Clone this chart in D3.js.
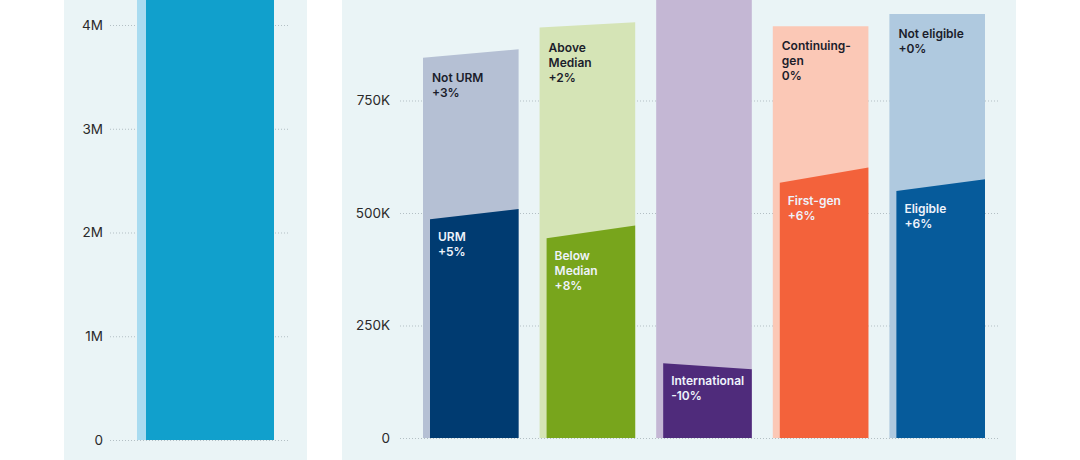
<!DOCTYPE html>
<html>
<head>
<meta charset="utf-8">
<script src="https://cdn.jsdelivr.net/npm/d3@7"></script>
<style>
  body { margin: 0; background: #ffffff; }
  svg { display: block; font-family: "Inter", "Lato", sans-serif; }
</style>
</head>
<body>
<div id="chart"></div>
<script>
// left panel: all applicants
var totalGroups = ["All"];
var totalLightStart = [5100000];
var totalLightEnd = [5200000];
var totalDarkStart = [5000000];
var totalDarkEnd = [5300000];
var totalTicks = [0, 1000000, 2000000, 3000000, 4000000];
var totalTickLabels = ["0", "1M", "2M", "3M", "4M"];

// right panel: subgroups
var groups = ["URM", "Income", "Citizenship", "First-gen", "Fee waiver"];
var lightStart = [845000, 912000, 1250000, 915000, 942000];
var lightEnd = [864000, 924000, 1290000, 915000, 942000];
var darkStart = [486000, 444000, 166000, 567000, 549000];
var darkEnd = [509000, 472000, 153000, 601000, 575000];
var lightLabels = [["Not URM", "+3%"], ["Above", "Median", "+2%"], [], ["Continuing-", "gen", "0%"], ["Not eligible", "+0%"]];
var darkLabels = [["URM", "+5%"], ["Below", "Median", "+8%"], ["International", "-10%"], ["First-gen", "+6%"], ["Eligible", "+6%"]];
var groupTicks = [0, 250000, 500000, 750000];
var groupTickLabels = ["0", "250K", "500K", "750K"];

var lightColors = ["#b5c0d4", "#d5e4b6", "#c4b7d4", "#fbc8b6", "#afc9df"];
var darkColors = ["#003b71", "#78a51c", "#4f2b7b", "#f3623b", "#065b9b"];
var lightText = "#1b1d2b";
var darkText = "#eef3fb";

var width = 1080, height = 460;
var inset = 7;

var svg = d3.select("#chart")
  .append("svg")
    .attr("width", width)
    .attr("height", height);

// panel backgrounds
svg.append("rect")
  .attr("x", 64).attr("y", 0)
  .attr("width", 243).attr("height", height)
  .style("fill", "#eaf4f6");
svg.append("rect")
  .attr("x", 342).attr("y", 0)
  .attr("width", 674).attr("height", height)
  .style("fill", "#eaf4f6");

function slopePath(x, y, x0, x1, v0, v1) {
  return "M" + x0 + "," + y(0) +
    "L" + x0 + "," + y(v0) +
    "L" + x1 + "," + y(v1) +
    "L" + x1 + "," + y(0) + "Z";
}

function drawAxis(g, y, ticks, labels, gridWidth, pad) {
  g.call(d3.axisLeft(y)
      .tickValues(ticks)
      .tickFormat(function (d, i) { return labels[i]; })
      .tickSize(-gridWidth)
      .tickPadding(pad));
  g.select(".domain").remove();
  g.selectAll(".tick line")
    .style("stroke", "#b3bfc4")
    .style("stroke-dasharray", "1,2");
  g.selectAll(".tick text")
    .style("font-size", "13.5px")
    .style("font-family", "Inter, Lato, sans-serif")
    .style("fill", "#2a2a2a");
}

// ---- left panel
var yTotal = d3.scaleLinear().domain([0, 4000000]).range([440, 25]);
var xTotal = d3.scaleBand().domain(totalGroups).range([137, 274]);

drawAxis(svg.append("g").attr("transform", "translate(110,0)"),
  yTotal, totalTicks, totalTickLabels, 180, 7);

svg.append("g").selectAll("path")
  .data(totalGroups)
  .enter()
  .append("path")
    .attr("d", function (d, i) {
      var x0 = xTotal(d);
      return slopePath(x0, yTotal, x0, x0 + xTotal.bandwidth(), totalLightStart[i], totalLightEnd[i]);
    })
    .style("fill", "#a9dbf0");

svg.append("g").selectAll("path")
  .data(totalGroups)
  .enter()
  .append("path")
    .attr("d", function (d, i) {
      var x0 = xTotal(d) + inset + 2;
      return slopePath(x0, yTotal, x0, xTotal(d) + xTotal.bandwidth(), totalDarkStart[i], totalDarkEnd[i]);
    })
    .style("fill", "#11a0cc");

// ---- right panel
var y = d3.scaleLinear().domain([0, 1000000]).range([438, -12]);
var x = d3.scaleBand().domain(groups).range([423, 985]).paddingInner(0.18).paddingOuter(0);

drawAxis(svg.append("g").attr("transform", "translate(400,0)"),
  y, groupTicks, groupTickLabels, 598, 10);

svg.append("g").selectAll("path")
  .data(groups)
  .enter()
  .append("path")
    .attr("d", function (d, i) {
      var x0 = x(d);
      return slopePath(x0, y, x0, x0 + x.bandwidth(), lightStart[i], lightEnd[i]);
    })
    .style("fill", function (d, i) { return lightColors[i]; });

svg.append("g").selectAll("path")
  .data(groups)
  .enter()
  .append("path")
    .attr("d", function (d, i) {
      var x0 = x(d) + inset;
      return slopePath(x0, y, x0, x(d) + x.bandwidth(), darkStart[i], darkEnd[i]);
    })
    .style("fill", function (d, i) { return darkColors[i]; });

function addLabels(lines, x0, y0, color) {
  var t = svg.append("text")
    .attr("x", x0)
    .attr("y", y0)
    .style("font-size", "12px")
    .style("font-weight", 600)
    .style("fill", color);
  lines.forEach(function (line, j) {
    t.append("tspan")
      .attr("x", x0)
      .attr("dy", j === 0 ? 0 : 15)
      .text(line);
  });
}

groups.forEach(function (d, i) {
  addLabels(lightLabels[i], x(d) + 9, y(lightStart[i]) + 24, lightText);
  addLabels(darkLabels[i], x(d) + inset + 8, y(darkStart[i]) + 22, darkText);
});
</script>
</body>
</html>
